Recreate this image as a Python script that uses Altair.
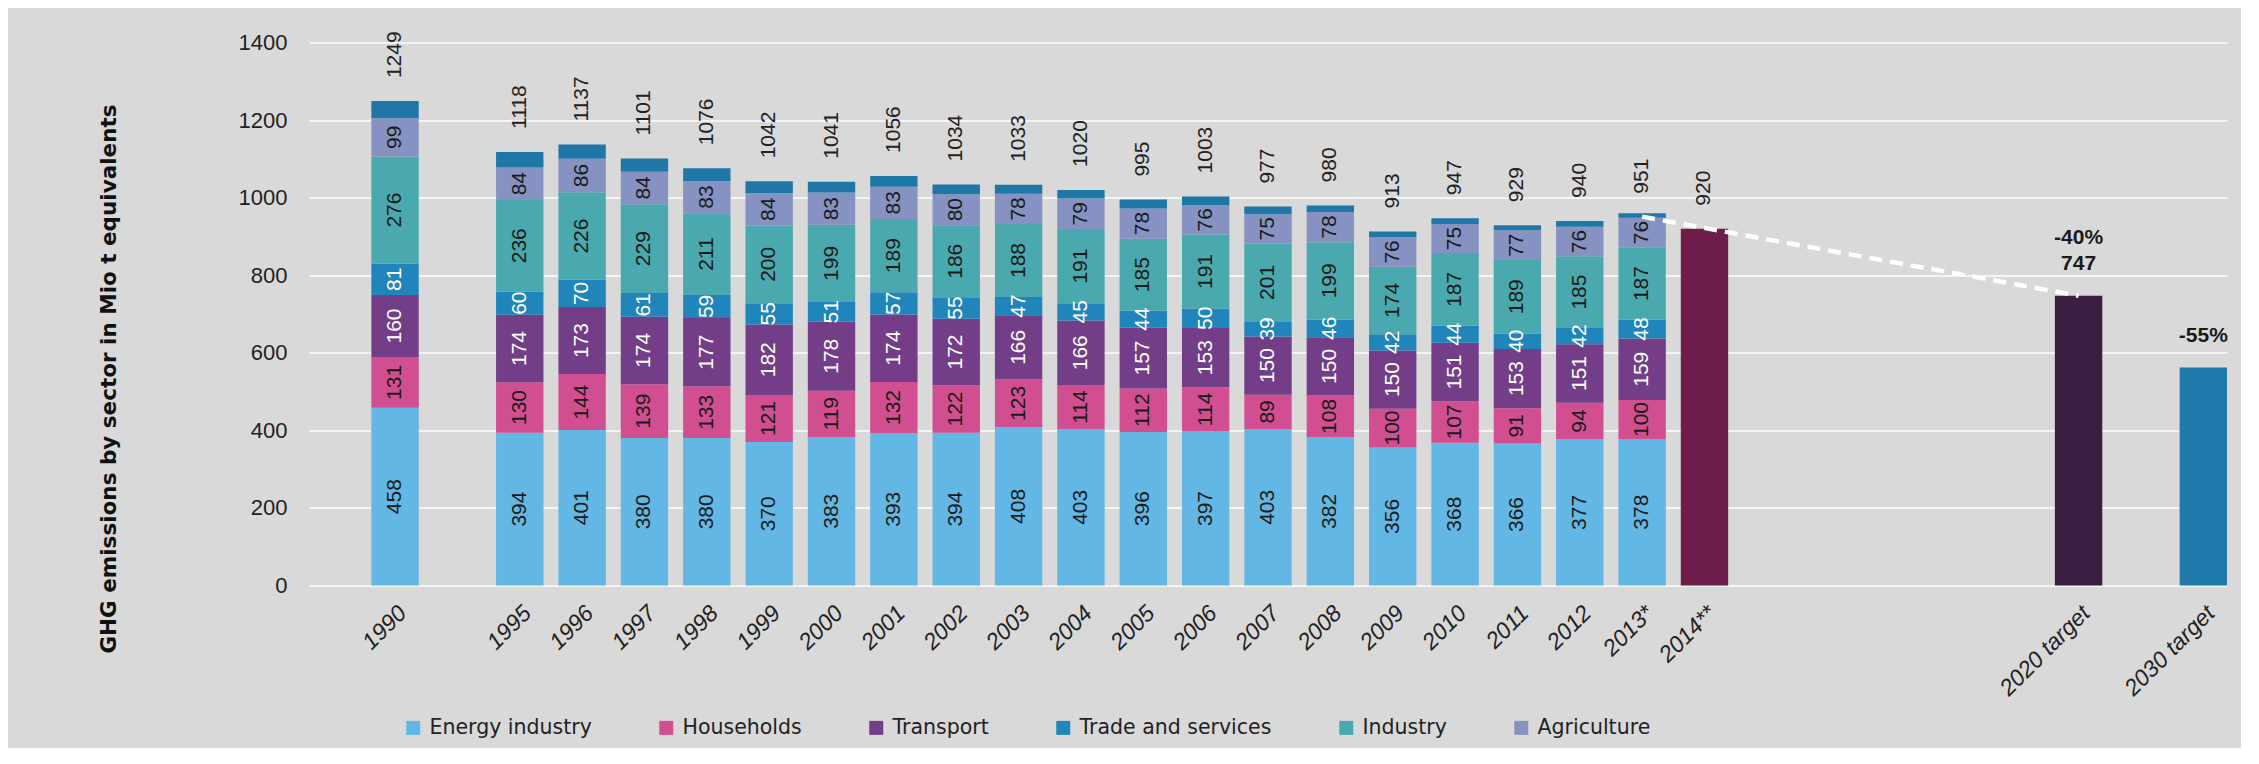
import altair as alt
import pandas as pd

# ---------------- data ----------------
years = ["1990", "1995", "1996", "1997", "1998", "1999", "2000", "2001", "2002",
         "2003", "2004", "2005", "2006", "2007", "2008", "2009", "2010", "2011",
         "2012", "2013*"]
energy = [458, 394, 401, 380, 380, 370, 383, 393, 394, 408, 403, 396, 397, 403, 382, 356, 368, 366, 377, 378]
households = [131, 130, 144, 139, 133, 121, 119, 132, 122, 123, 114, 112, 114, 89, 108, 100, 107, 91, 94, 100]
transport = [160, 174, 173, 174, 177, 182, 178, 174, 172, 166, 166, 157, 153, 150, 150, 150, 151, 153, 151, 159]
trade = [81, 60, 70, 61, 59, 55, 51, 57, 55, 47, 45, 44, 50, 39, 46, 42, 44, 40, 42, 48]
industry = [276, 236, 226, 229, 211, 200, 199, 189, 186, 188, 191, 185, 191, 201, 199, 174, 187, 189, 185, 187]
agriculture = [99, 84, 86, 84, 83, 84, 83, 83, 80, 78, 79, 78, 76, 75, 78, 76, 75, 77, 76, 76]
other = [44, 40, 37, 34, 33, 30, 28, 28, 25, 23, 22, 23, 22, 20, 17, 15, 15, 13, 15, 12]
totals = [1249, 1118, 1137, 1101, 1076, 1042, 1041, 1056, 1034, 1033, 1020, 995, 1003, 977, 980, 913, 947, 929, 940, 951]

sectors = ["Energy industry", "Households", "Transport", "Trade and services", "Industry", "Agriculture"]
sector_colors = ["#63b7e4", "#d14f90", "#733d88", "#1f85bb", "#4aa9ae", "#8692c1"]
other_color = "#1f77a8"

extra_cats = ["2014**", "2020 target", "2030 target"]
extra_vals = [920, 747, 562]
extra_colors = ["#6e1c49", "#3b1d42", "#1f79aa"]

target_cats = ["2020 target", "2030 target"]
target_vals = [747, 562]
target_upper = ["-40%", ""]
target_lower = ["747", "-55%"]

trend_cats = ["2013*", "2020 target"]
trend_vals = [951, 747]

y_ticks = [0, 200, 400, 600, 800, 1000, 1200, 1400]

x_domain = (["_a", "1990", "_b"] + years[1:] + ["2014**", "_c", "_d", "_e", "_f", "_g",
            "2020 target", "_h", "2030 target"])

# ---------------- tables ----------------
series = [energy, households, transport, trade, industry, agriculture]
seg_rows, other_rows = [], []
for i, yr in enumerate(years):
    base = 0
    for s, vals in zip(sectors, series):
        v = vals[i]
        seg_rows.append(dict(cat=yr, sector=s, start=base, end=base + v, mid=base + v / 2, value=v))
        base += v
    other_rows.append(dict(cat=yr, start=base, end=base + other[i]))
seg_df = pd.DataFrame(seg_rows)
other_df = pd.DataFrame(other_rows)
total_df = pd.DataFrame(dict(cat=years + ["2014**"], total=totals + [920]))
extra_df = pd.DataFrame(dict(cat=extra_cats, val=extra_vals, col=extra_colors))
target_df = pd.DataFrame(dict(cat=target_cats, val=target_vals, up=target_upper, low=target_lower))
trend_df = pd.DataFrame(dict(cat=trend_cats, val=trend_vals))

# ---------------- scales / axes ----------------
xs = alt.Scale(domain=x_domain, paddingInner=0.24, paddingOuter=0)
ys = alt.Scale(domain=[0, 1400], nice=False, zero=True)

x_axis = alt.Axis(title=None, labelAngle=-45,
                  labelExpr="indexof(datum.value, '_') == 0 ? '' : datum.value",
                  ticks=False, domain=False, grid=False,
                  labelFont="Liberation Sans", labelFontStyle="italic", labelFontSize=23,
                  labelColor="#222222", labelPadding=16, labelAlign="right", labelBaseline="top",
                  labelOverlap=False)
y_axis = alt.Axis(title="GHG emissions by sector in Mio t equivalents",
                  values=y_ticks, format="d",
                  grid=True, gridColor="#f4f4f4", gridWidth=2, ticks=False, domain=False,
                  labelFont="Liberation Sans", labelFontSize=22, labelColor="#222222",
                  labelPadding=22,
                  titleFont="DejaVu Sans", titleFontWeight="bold", titleFontSize=21.5,
                  titleColor="#111111", titleX=-200, titleY=336, titleAngle=270,
                  titleAlign="center", titleBaseline="middle")


def X():
    return alt.X("cat:N", scale=xs, axis=x_axis)


def Y(field):
    return alt.Y(field, scale=ys, axis=y_axis)


bars = alt.Chart(seg_df).mark_bar().encode(
    x=X(),
    y=Y("start:Q"),
    y2="end:Q",
    color=alt.Color("sector:N",
                    scale=alt.Scale(domain=sectors, range=sector_colors),
                    legend=alt.Legend(title=None, orient="none", legendX=94, legendY=675,
                                      direction="horizontal", columns=6, symbolType="square",
                                      symbolSize=196, symbolStrokeWidth=0,
                                      labelFont="DejaVu Sans", labelFontSize=20.5,
                                      labelColor="#222222", labelOffset=6, columnPadding=64,
                                      labelLimit=400)),
)

other_bars = alt.Chart(other_df).mark_bar(color=other_color).encode(
    x=X(), y=Y("start:Q"), y2="end:Q")

extra_bars = alt.Chart(extra_df).mark_bar().encode(
    x=X(), y=Y("val:Q"), color=alt.Color("col:N", scale=None))

seg_text = alt.Chart(seg_df).mark_text(angle=270, align="center", baseline="middle",
                                       font="Liberation Sans", fontSize=21).encode(
    x=X(), y=Y("mid:Q"), text="value:Q",
    color=alt.condition("datum.sector == 'Transport' || datum.sector == 'Trade and services'",
                        alt.value("#ffffff"), alt.value("#1a1a1a")))

total_text = alt.Chart(total_df).mark_text(angle=270, align="left", baseline="middle", dx=23,
                                           font="Liberation Sans", fontSize=21,
                                           color="#222222").encode(
    x=X(), y=Y("total:Q"), text="total:Q")

trend = alt.Chart(trend_df).mark_line(color="white", strokeWidth=4.5, strokeDash=[13, 8]).encode(
    x=X(), y=Y("val:Q"))

low_text = alt.Chart(target_df).mark_text(baseline="middle", dy=-32, font="Liberation Sans",
                                          fontWeight="bold", fontSize=21, color="#1a1a1a").encode(
    x=X(), y=Y("val:Q"), text="low:N")
up_text = alt.Chart(target_df).mark_text(baseline="middle", dy=-58, font="Liberation Sans",
                                         fontWeight="bold", fontSize=21, color="#1a1a1a").encode(
    x=X(), y=Y("val:Q"), text="up:N")

chart = alt.layer(bars, other_bars, extra_bars, seg_text, total_text, trend, low_text, up_text).properties(
    width=1918, height=543,
    padding={"left": 301, "top": 34.5, "right": 14, "bottom": 162},
    autosize=alt.AutoSizeParams(type="none"),
    background="#d9d9d9",
).configure_view(stroke=None)

chart.save("out.html", embed_options={"renderer": "svg", "actions": False})
